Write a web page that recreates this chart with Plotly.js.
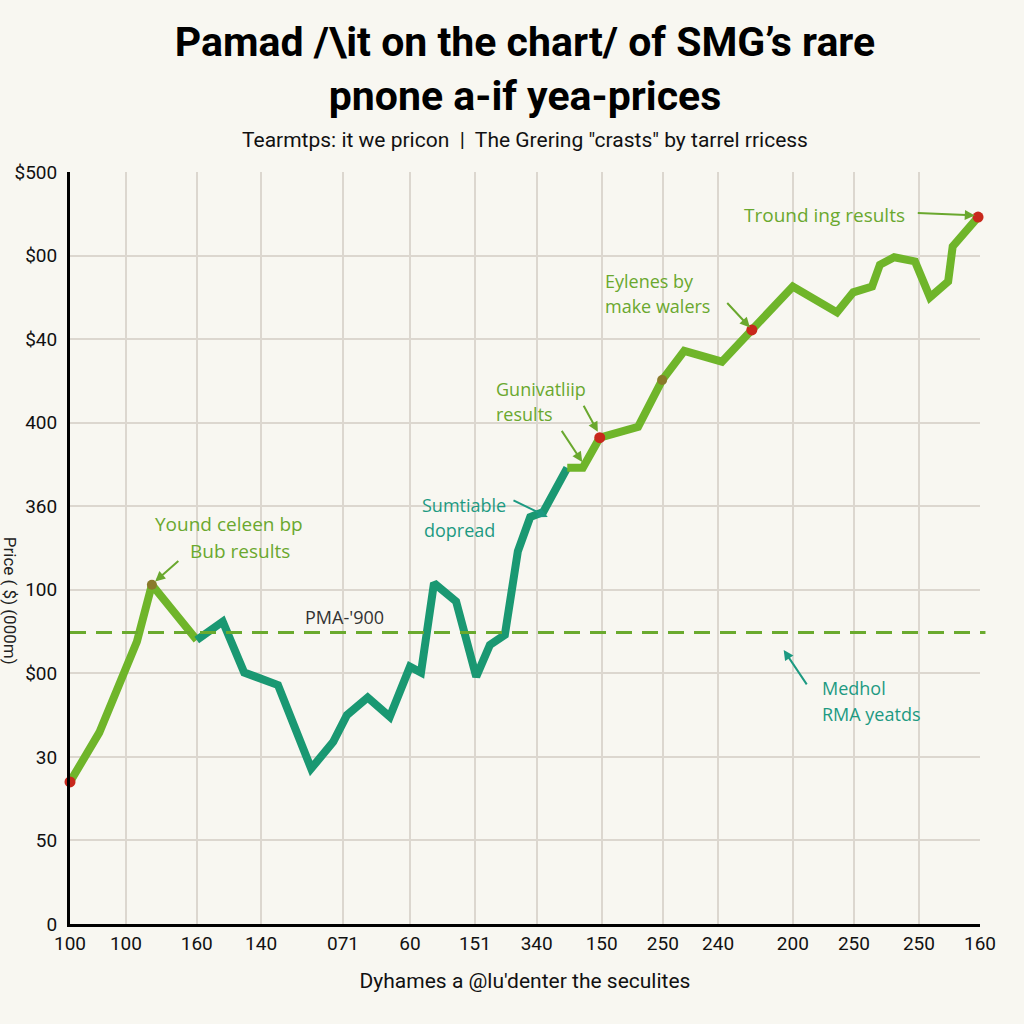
<!DOCTYPE html>
<html>
<head>
<meta charset="utf-8">
<script src="https://cdn.plot.ly/plotly-3.0.1.min.js"></script>
<style>
  html, body { margin: 0; padding: 0; background: #f8f7f1; }
  #chart { width: 1024px; height: 1024px; }
</style>
</head>
<body>
<div id="chart"></div>
<script>
// ---- data ----
const xTickPos = [0, 0.86, 1.95, 2.94, 4.2, 5.23, 6.23, 7.18, 8.18, 9.12, 9.97, 11.12, 12.06, 13.06, 14];
const xTickLabels = ["100", "100", "160", "140", "071", "60", "151", "340", "150", "250", "240", "200", "250", "250", "160"];
const yTickPos = [0, 1, 2, 3, 4, 5, 6, 7, 8, 9];
const yTickLabels = ["0", "50", "30", "$00", "100", "360", "400", "$40", "$00", "$500"];

const seriesX = [0, 0.45, 1.03, 1.26, 1.95, 2.35, 2.68, 3.20, 3.71, 4.05, 4.26, 4.58, 4.92, 5.23, 5.40,
  5.60, 5.94, 6.25, 6.46, 6.69, 6.89, 7.08, 7.28, 7.65, 7.89, 8.15, 8.74, 9.11, 9.45, 10.03,
  10.49, 11.12, 11.80, 12.05, 12.34, 12.46, 12.68, 13.00, 13.23, 13.51, 13.58, 13.97];
const seriesY = [1.70, 2.29, 3.38, 4.06, 3.40, 3.62, 3.01, 2.86, 1.86, 2.18, 2.50, 2.71, 2.48, 3.08, 3.01,
  4.08, 3.86, 2.96, 3.34, 3.46, 4.46, 4.87, 4.93, 5.46, 5.46, 5.82, 5.95, 6.51, 6.86, 6.73,
  7.11, 7.63, 7.32, 7.56, 7.63, 7.89, 7.98, 7.93, 7.50, 7.69, 8.11, 8.46];

// colour phases of the line (index ranges, inclusive)
const phaseEarly = [0, 4];
const phaseMid = [4, 23];
const phaseLate = [23, 41];

const redPoints = [0, 25, 30, 41];
const brownPoints = [3, 27];

const pmaLevel = 3.49;

// ---- styling ----
const GREEN = "#6fb52a";
const TEAL = "#1a9872";
const TEXT_GREEN = "#6aa82e";
const TEXT_TEAL = "#1d9a82";

function slice(arr, r) { return arr.slice(r[0], r[1] + 1); }
function pick(arr, idx) { return idx.map(i => arr[i]); }

const traces = [
  { x: slice(seriesX, phaseEarly), y: slice(seriesY, phaseEarly), mode: "lines",
    line: { color: GREEN, width: 8 }, hoverinfo: "skip" },
  { x: slice(seriesX, phaseMid), y: slice(seriesY, phaseMid), mode: "lines",
    line: { color: TEAL, width: 8 }, hoverinfo: "skip" },
  { x: slice(seriesX, phaseLate), y: slice(seriesY, phaseLate), mode: "lines",
    line: { color: GREEN, width: 8 }, hoverinfo: "skip" },
  { x: pick(seriesX, redPoints), y: pick(seriesY, redPoints), mode: "markers",
    marker: { color: "#c8281c", size: 11 }, cliponaxis: false },
  { x: pick(seriesX, brownPoints), y: pick(seriesY, brownPoints), mode: "markers",
    marker: { color: "#8a7a2a", size: 10 } }
];

const afont = (c, s) => ({ family: "Open Sans, sans-serif", size: s || 18, color: c });

function label(text, x, y, color, anchor, size) {
  return { text: text, x: x, y: y, xref: "x", yref: "y", showarrow: false,
    xanchor: anchor || "center", yanchor: "middle", font: afont(color, size) };
}
function arrow(x0, y0, x1, y1, color) {
  return { text: "", x: x1, y: y1, ax: x0, ay: y0, xref: "x", yref: "y", axref: "x", ayref: "y",
    showarrow: true, arrowhead: 2, arrowsize: 1, arrowwidth: 2, arrowcolor: color };
}

const annotations = [
  label("Yound celeen bp", 2.45, 4.79, TEXT_GREEN, "center", 19),
  label("Bub results", 2.62, 4.47, TEXT_GREEN, "center", 19),
  arrow(1.69, 4.36, 1.31, 4.10, TEXT_GREEN),

  label("Sumtiable", 5.38, 5.02, TEXT_TEAL, "left"),
  label("dopread", 5.99, 4.71, TEXT_TEAL),
  arrow(6.8, 5.08, 7.35, 4.87, TEXT_TEAL),

  label("Gunivatliip", 6.52, 6.40, TEXT_GREEN, "left"),
  label("results", 6.52, 6.10, TEXT_GREEN, "left"),
  arrow(7.55, 5.92, 7.88, 5.53, TEXT_GREEN),
  arrow(7.89, 6.22, 8.12, 5.89, TEXT_GREEN),

  label("Eylenes by", 8.2, 7.69, TEXT_GREEN, "left"),
  label("make walers", 8.2, 7.40, TEXT_GREEN, "left"),
  arrow(10.09, 7.45, 10.46, 7.14, TEXT_GREEN),

  label("Tround ing results", 11.6, 8.49, TEXT_GREEN, "center", 19),
  arrow(13.02, 8.51, 13.92, 8.48, TEXT_GREEN),

  label("PMA-'900", 4.23, 3.68, "#333333", "center", 18),

  label("Medhol", 11.54, 2.83, TEXT_TEAL, "left"),
  label("RMA yeatds", 11.54, 2.51, TEXT_TEAL, "left"),
  arrow(11.35, 2.85, 10.98, 3.28, TEXT_TEAL),

  { text: "Tearmtps: it we pricon  |  The Grering \"crasts\" by tarrel rricess",
    xref: "paper", yref: "paper", x: 0.5, y: 1.0426, xanchor: "center", yanchor: "middle",
    showarrow: false, font: { family: "Roboto, sans-serif", size: 21, color: "#111" } },

  { text: "Price ( $) (000m)", xref: "paper", yref: "paper", x: -0.065, y: 0.43,
    xanchor: "center", yanchor: "middle", textangle: 90, showarrow: false,
    font: { family: "Roboto, sans-serif", size: 17, color: "#222" } }
];

const layout = {
  width: 1024, height: 1024,
  paper_bgcolor: "#f8f7f1", plot_bgcolor: "#f8f7f1",
  margin: { l: 70, r: 44, t: 172, b: 100 },
  showlegend: false,
  title: {
    text: "Pamad /\\it on the chart/ of SMG’s rare<br>pnone a-if yea-prices",
    x: 0.5, xanchor: "center", xref: "paper",
    y: 0.945, yanchor: "middle", yref: "container",
    font: { family: "Roboto, sans-serif", size: 41, color: "#000", weight: 700 }
  },
  xaxis: {
    range: [0, 14], tickmode: "array", tickvals: xTickPos, ticktext: xTickLabels,
    showgrid: true, gridcolor: "#dcd7cf", gridwidth: 2,
    showline: true, linecolor: "#000", linewidth: 3, zeroline: false,
    ticks: "", tickfont: { family: "Roboto, sans-serif", size: 19, color: "#111" },
    title: { text: "Dyhames a @lu'denter the seculites", standoff: 20,
      font: { family: "Roboto, sans-serif", size: 21, color: "#111" } }
  },
  yaxis: {
    range: [0, 9], tickmode: "array", tickvals: yTickPos, ticktext: yTickLabels,
    showgrid: true, gridcolor: "#dcd7cf", gridwidth: 2,
    showline: true, linecolor: "#000", linewidth: 3, zeroline: false,
    ticks: "", ticklabelstandoff: 6,
    tickfont: { family: "Roboto, sans-serif", size: 19, color: "#111" }
  },
  shapes: [
    { type: "line", xref: "paper", yref: "y", x0: 0, x1: 1.006, y0: pmaLevel, y1: pmaLevel,
      line: { color: "#6aaa2e", width: 3, dash: "16px,10px" } }
  ],
  annotations: annotations
};

Plotly.newPlot("chart", traces, layout, { displayModeBar: false, staticPlot: true });
</script>
</body>
</html>
